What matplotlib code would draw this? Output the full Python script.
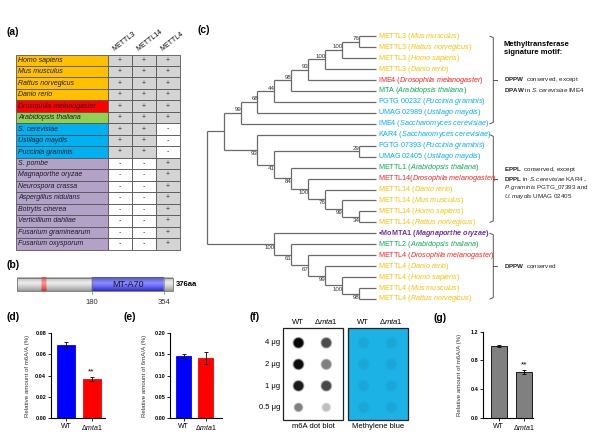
import numpy as np
import matplotlib
matplotlib.use("Agg")
import matplotlib.pyplot as plt
from matplotlib.patches import Rectangle

plt.rcParams["font.family"] = "Liberation Sans"
plt.rcParams["mathtext.fontset"] = "custom"
plt.rcParams["mathtext.rm"] = "Liberation Sans"
plt.rcParams["mathtext.it"] = "Liberation Sans:italic"
plt.rcParams["mathtext.bf"] = "Liberation Sans:bold"
plt.rcParams["mathtext.bfit"] = "Liberation Sans:italic:bold"

W, H = 595, 438

# ---------------- (a) presencia de metiltransferasas ----------------
ESPECIES = ["Homo sapiens", "Mus musculus", "Rattus norvegicus", "Danio rerio",
            "Drosophila melanogaster", "Arabidopsis thaliana", "S. cerevisiae",
            "Ustilago maydis", "Puccinia graminis", "S. pombe", "Magnaporthe oryzae",
            "Neurospora crassa", "Aspergillus nidulans", "Botrytis cinerea",
            "Verticillium dahliae", "Fusarium graminearum", "Fusarium oxysporum"]
GRUPO = ["vert", "vert", "vert", "vert", "mosca", "planta", "hongo_a", "hongo_a",
         "hongo_a", "hongo_b", "hongo_b", "hongo_b", "hongo_b", "hongo_b",
         "hongo_b", "hongo_b", "hongo_b"]
GENES = ["METTL3", "METTL14", "METTL4"]
METTL3 = ["+", "+", "+", "+", "+", "+", "+", "+", "+", "-", "-", "-", "-", "-", "-", "-", "-"]
METTL14 = ["+", "+", "+", "+", "+", "+", "+", "+", "+", "-", "-", "-", "-", "-", "-", "-", "-"]
METTL4 = ["+", "+", "+", "+", "+", "+", "-", "-", "-", "+", "+", "+", "+", "+", "+", "+", "+"]

FONDO_GRUPO = {"vert": "#FFC000", "mosca": "#FF0000", "planta": "#92D050",
               "hongo_a": "#00B0F0", "hongo_b": "#B3A2C7"}
TEXTO_GRUPO = {"vert": "#FFC000", "mosca": "#FF2020", "planta": "#00B050",
               "hongo_a": "#00B0F0", "hongo_b": "#7030A0"}

# ---------------- (b) dominio ----------------
LARGO_PROT = 376
DOMINIO = (180, 354)
MOTIVO = (59, 71)

# ---------------- (c) arbol ----------------
HOJAS_GEN = ["METTL3 ", "METTL3 ", "METTL3 ", "METTL3 ", "IME4 ", "MTA ",
             "PGTG 00232 ", "UMAG 02989 ", "IME4 ", "KAR4 ", "PGTG 07393 ",
             "UMAG 02405 ", "METTL1 ", "METTL14", "METTL14 ", "METTL14 ",
             "METTL14 ", "METTL14 ", "\u2022MoMTA1 ", "METTL2 ", "METTL4 ",
             "METTL4 ", "METTL4 ", "METTL4 ", "METTL4 "]
HOJAS_ESPECIE = ["Mus musculus", "Rattus norvegicus", "Homo sapiens", "Danio rerio",
                 "Drosophila melanogaster", "Arabidopsis thaliana", "Puccinia graminis",
                 "Ustilago maydis", "Saccharomyces cerevisiae", "Saccharomyces cerevisiae",
                 "Puccinia graminis", "Ustilago maydis", "Arabidopsis thaliana",
                 "Drosophila melanogaster", "Danio rerio", "Mus musculus", "Homo sapiens",
                 "Rattus norvegicus", "Magnaporthe oryzae", "Arabidopsis thaliana",
                 "Drosophila melanogaster", "Danio rerio", "Homo sapiens", "Mus musculus",
                 "Rattus norvegicus"]
HOJAS_GRUPO = ["vert", "vert", "vert", "vert", "mosca", "planta", "hongo_a", "hongo_a",
               "hongo_a", "hongo_a", "hongo_a", "hongo_a", "planta", "mosca", "vert",
               "vert", "vert", "vert", "hongo_b", "planta", "mosca", "vert", "vert",
               "vert", "vert"]
# (bootstrap, hijo_arriba, hijo_abajo); los enteros son hojas
ARBOL = (None,
         (None,
          ("99", ("68", ("44", ("98", ("93", ("100", ("100", ("76", 0, 1), 2), 3), 4), 5), 6), 7), 8),
          ("93", 9, ("41", ("29", 10, 11),
                     ("84", 12, ("100", 13, ("76", 14, ("99", 15, ("34", 16, 17)))))))),
         ("100", 18, ("61", 19, ("67", 20, ("99", 21, ("100", 22, ("98", 23, 24)))))))
MOTIVOS = [(0, 8, [r"$\mathbf{DPPW}$  conserved, except",
                   r"$\mathbf{DPAW}$ in $\mathit{S.cerevisiae}$ IME4"]),
           (9, 17, [r"$\mathbf{EPPL}$  conserved, except",
                    r"$\mathbf{DPPL}$ in $\mathit{S.cerevisiae}$ KAR4",
                    r"$\mathit{P.graminis}$ PGTG_07393 and",
                    r"$\mathit{U.maydis}$ UMAG 02405"]),
           (18, 24, [r"$\mathbf{DPPW}$  conserved"])]

# ---------------- (d), (e), (g) ----------------
CEPAS = ["WT", "\u0394$\\mathit{mta1}$"]
M6A_HPLC = [0.069, 0.037]
M6A_HPLC_ERR = [0.003, 0.002]
M6DA = [0.146, 0.142]
M6DA_ERR = [0.004, 0.014]
M6A_REL = [1.0, 0.635]
M6A_REL_ERR = [0.02, 0.03]

# ---------------- (f) dot blot ----------------
CARGAS = ["4 \u03bcg", "2 \u03bcg", "1 \u03bcg", "0.5 \u03bcg"]
SENAL_WT = [0.97, 0.95, 0.9, 0.5]
SENAL_MUT = [0.7, 0.5, 0.72, 0.25]


def it(s):
    return r"$\mathit{" + s.replace(" ", r"\ ") + "}$"


fig = plt.figure(figsize=(W / 100, H / 100), dpi=100)
ax0 = fig.add_axes([0, 0, 1, 1])
ax0.set_xlim(0, W)
ax0.set_ylim(H, 0)
ax0.axis("off")

for etq, x, y in [("(a)", 6.5, 32), ("(b)", 6.5, 265), ("(c)", 197, 30), ("(d)", 6.5, 317),
                  ("(e)", 123, 317), ("(f)", 249, 317), ("(g)", 433, 318)]:
    ax0.text(x, y, etq, fontsize=7.5, fontweight="bold", ha="left", va="center")

# ---- (a)
top, alto = 54.5, 195 / 17
cols = [16, 108, 132, 156, 180]
for i, esp in enumerate(ESPECIES):
    y = top + i * alto
    ax0.add_patch(Rectangle((cols[0], y), cols[1] - cols[0], alto,
                            facecolor=FONDO_GRUPO[GRUPO[i]], edgecolor="#555555", lw=0.6))
    ax0.text(cols[0] + 2, y + alto / 2, esp, fontsize=5, style="italic",
             color="#1a1a2a", va="center", ha="left")
    for j, marca in enumerate([METTL3[i], METTL14[i], METTL4[i]]):
        ax0.add_patch(Rectangle((cols[j + 1], y), cols[j + 2] - cols[j + 1], alto,
                                facecolor="#D4D4D4" if marca == "+" else "white",
                                edgecolor="#555555", lw=0.6))
        ax0.text((cols[j + 1] + cols[j + 2]) / 2, y + alto / 2, marca, fontsize=5,
                 ha="center", va="center", color="#333333")
for j, g in enumerate(GENES):
    ax0.text((cols[j + 1] + cols[j + 2]) / 2 - 4, 52.5, g, fontsize=5, rotation=38,
             rotation_mode="anchor", ha="left", va="bottom")

# ---- (b)
bx0, bx1, by0, by1 = 17.3, 173.3, 277.7, 291
esc = (bx1 - bx0) / LARGO_PROT
t = np.linspace(0, 1, 30)
s = np.clip(1 - np.abs(t - 0.42) / 0.58, 0, 1) ** 0.8
base = np.zeros((LARGO_PROT, 2, 3))
base[:] = [[150, 150, 150], [238, 238, 238]]
base[DOMINIO[0]:DOMINIO[1]] = [[40, 40, 210], [140, 140, 255]]
base[MOTIVO[0]:MOTIVO[1]] = [[215, 40, 40], [255, 150, 150]]
img = base[None, :, 0, :] + (base[None, :, 1, :] - base[None, :, 0, :]) * s[:, None, None]
ax0.imshow(img / 255, extent=(bx0, bx1, by1, by0), aspect="auto", interpolation="bilinear")
ax0.add_patch(Rectangle((bx0, by0), bx1 - bx0, by1 - by0, fill=False, edgecolor="#707070", lw=0.6))
for p in DOMINIO:
    xp = bx0 + p * esc
    ax0.plot([xp, xp], [by0, by1], color="#707070", lw=0.4)
    ax0.plot([xp, xp], [by1, by1 + 3], color="#777777", lw=0.5)
    ax0.text(xp, 302, str(p), fontsize=5.5, ha="center", va="center", color="#333333")
ax0.text(bx0 + sum(DOMINIO) / 2 * esc, (by0 + by1) / 2, "MT-A70", fontsize=6.5,
         ha="center", va="center", color="#1a1a1a")
ax0.text(bx1 + 2.5, (by0 + by1) / 2, f"{LARGO_PROT}aa", fontsize=5.5, fontweight="bold",
         ha="left", va="center")

# ---- (c)
X_HOJA, X_RAIZ, Y0, DY = 375.7, 206.7, 36.2, 10.95
PASO = (X_HOJA - X_RAIZ) / 10
c_linea = dict(color="#6a6a6a", lw=0.9, solid_capstyle="butt")


def dibujar(nodo):
    if isinstance(nodo, int):
        return X_HOJA, Y0 + nodo * DY, 0
    _, a, b = nodo
    xa, ya, ha = dibujar(a)
    xb, yb, hb = dibujar(b)
    h = max(ha, hb) + 1
    x = X_HOJA - h * PASO
    ax0.plot([x, x], [ya, yb], **c_linea)
    ax0.plot([x, xa], [ya, ya], **c_linea)
    ax0.plot([x, xb], [yb, yb], **c_linea)
    for hijo, xc, yc, arriba in ((a, xa, ya, True), (b, xb, yb, False)):
        if not isinstance(hijo, int) and hijo[0]:
            ax0.text(xc + 0.6, yc - 0.6 if arriba else yc + 1.2, hijo[0], fontsize=4.4,
                     color="#333333", ha="right", va="bottom" if arriba else "top")
    return x, (ya + yb) / 2, h


dibujar(ARBOL)
for i, (gen, esp, grp) in enumerate(zip(HOJAS_GEN, HOJAS_ESPECIE, HOJAS_GRUPO)):
    y = Y0 + i * DY
    if grp == "hongo_b":
        etq = gen + "(" + r"$\mathbfit{" + esp.replace(" ", r"\ ") + "}$" + ")"
        ax0.text(X_HOJA + 2.5, y, etq, fontsize=5.2, fontweight="bold",
                 color=TEXTO_GRUPO[grp], va="center", ha="left")
    else:
        ax0.text(X_HOJA + 2.5, y, gen + "(" + it(esp) + ")", fontsize=5.2,
                 color=TEXTO_GRUPO[grp], va="center", ha="left")

ax0.text(504, 44, "Methyltransferase", fontsize=5.5, fontweight="bold", va="center")
ax0.text(504, 52.7, "signature motif:", fontsize=5.5, fontweight="bold", va="center")
renderer = fig.canvas.get_renderer()
saltos = [[0, 9.7], [-8.8, 0.6, 9.4, 18.2], [0]]
for (i0, i1, lineas), dys in zip(MOTIVOS, saltos):
    ya, yb = Y0 + i0 * DY, Y0 + i1 * DY
    ym = (ya + yb) / 2
    ax0.plot([490, 493.3, 493.3, 490], [ya, ya + 1.5, yb - 1.5, yb], color="#555555", lw=0.7)
    ax0.plot([493.3, 497], [ym, ym], color="#555555", lw=0.7)
    for lin, d in zip(lineas, dys):
        tx = ax0.text(504, ym + d, lin, fontsize=4.5, va="center", ha="left", color="#222222")
        if "KAR4" in lin:
            bb = tx.get_window_extent(renderer)
            x_fin = ax0.transData.inverted().transform((bb.x1, bb.y0))[0]
            ax0.text(x_fin - 0.5, ym + d, "\u3001", fontsize=4.0, va="center", ha="left",
                     family=["Noto Sans CJK SC", "DejaVu Sans"], color="#222222")

# ---- (f)
cajas = [(282.7, "m6A dot blot"), (347.7, "Methylene blue")]
ancho_caja, yb0, yb1 = 60.5, 328.3, 420
filas_y = [343, 364.5, 386, 407.5]
cols_dx = [15.3, 43.0]
gx = np.linspace(0, ancho_caja, 240)
gy = np.linspace(yb0, yb1, 360)
GX, GY = np.meshgrid(gx, gy)
blot = np.zeros_like(GX)
tenido = np.zeros_like(GX)
for k, yk in enumerate(filas_y):
    r0 = 5.2 if k < 3 else 4.3
    for dx, senal in zip(cols_dx, [SENAL_WT[k], SENAL_MUT[k]]):
        d = np.hypot(GX - dx, GY - yk)
        blot = np.maximum(blot, senal * np.clip((r0 - d) / 1.6 + 0.5, 0, 1))
        tenido = np.maximum(tenido, np.clip((5.5 - d) / 2.0 + 0.5, 0, 1))
gris = 1 - blot
img_blot = np.dstack([gris, gris, gris])
azul = np.array([0.11, 0.70, 0.90])
img_azul = azul[None, None, :] * (1 - 0.06 * tenido[:, :, None])
for (x0, titulo), im in zip(cajas, [img_blot, img_azul]):
    ax0.imshow(im, extent=(x0, x0 + ancho_caja, yb1, yb0), aspect="auto", interpolation="bilinear")
    ax0.add_patch(Rectangle((x0, yb0), ancho_caja, yb1 - yb0, fill=False, edgecolor="#222222", lw=0.9))
    ax0.text(x0 + ancho_caja / 2, 426, titulo, fontsize=5.5, ha="center", va="center")
    for dx, cepa in zip(cols_dx, CEPAS):
        ax0.text(x0 + dx, 322, cepa, fontsize=5.5, ha="center", va="center")
for yk, carga in zip(filas_y, CARGAS):
    ax0.text(280.5, yk, carga, fontsize=5.5, ha="right", va="center")

ax0.set_xlim(0, W)
ax0.set_ylim(H, 0)


# ---- barras
def px_axes(l, t, r, b):
    return fig.add_axes([l / W, 1 - b / H, (r - l) / W, (b - t) / H])


def barras(caja, centros, ancho, valores, errores, colores, ylim, yticks, fmt, etq, dx_label, marca):
    l, t, r, b = caja
    unidad = centros[1] - centros[0]
    ax = px_axes(l, t, r, b)
    ax.bar([0, 1], valores, width=ancho / unidad, color=colores,
           edgecolor=["black" if c == "#808080" else c for c in colores], lw=0.6, zorder=2)
    ax.errorbar([0, 1], valores, yerr=errores, fmt="none", ecolor="black",
                elinewidth=0.6, capsize=1.5, capthick=0.6, zorder=3)
    ax.set_xlim(-(centros[0] - l) / unidad, 1 + (r - centros[1]) / unidad)
    ax.set_ylim(*ylim)
    ax.set_yticks(yticks)
    ax.set_yticklabels([fmt.format(v) for v in yticks], fontsize=4, fontweight="bold")
    ax.set_xticks([0, 1])
    ax.set_xticklabels(CEPAS, fontsize=5)
    for sp in ["top", "right"]:
        ax.spines[sp].set_visible(False)
    for sp in ["left", "bottom"]:
        ax.spines[sp].set_linewidth(0.8)
    ax.tick_params(length=2, width=0.6, pad=1.5)
    ax.set_ylabel(etq, fontsize=4.4, color="#333333")
    ax.yaxis.set_label_coords(-dx_label / (r - l), 0.5)
    ax.patch.set_alpha(0)
    if marca:
        ax.text(1, valores[1] + errores[1] + 0.015 * ylim[1], "**", ha="center",
                va="bottom", fontsize=6)
    return ax


barras((51, 333, 105, 418), (66, 91.5), 18, M6A_HPLC, M6A_HPLC_ERR, ["#0000FF", "#FF0000"],
       (0, 0.08), [0, 0.02, 0.04, 0.06, 0.08], "{:.2f}", "Relative amount of m6A/A (%)", 21, True)
barras((170, 333, 222, 418), (183.5, 205.8), 15, M6DA, M6DA_ERR, ["#0000FF", "#FF0000"],
       (0, 0.20), [0, 0.05, 0.10, 0.15, 0.20], "{:.2f}", "Relative amount of 6mA/A (%)", 23, False)
barras((483.3, 331.7, 533, 417.7), (498.7, 523.8), 16, M6A_REL, M6A_REL_ERR, ["#808080", "#808080"],
       (0, 1.2), [0, 0.4, 0.8, 1.2], "{:.1f}", "Relative amount of m6A/A (%)", 21.6, True)

fig.savefig("out.png", dpi=100)
